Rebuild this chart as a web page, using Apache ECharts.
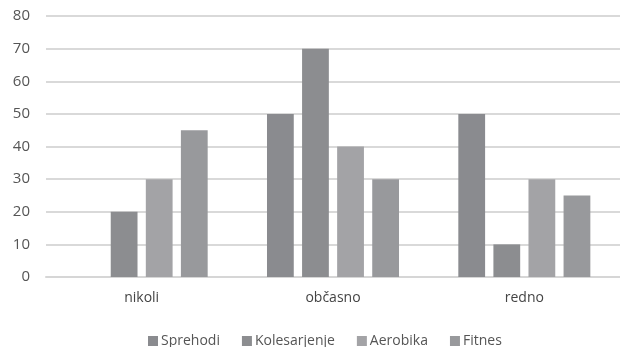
<!DOCTYPE html>
<html>
<head>
<meta charset="utf-8">
<script src="https://cdn.jsdelivr.net/npm/echarts@6/dist/echarts.min.js"></script>
<style>
  html, body { margin: 0; padding: 0; background: #fff; }
  #chart { width: 620px; height: 347px; }
</style>
</head>
<body>
<div id="chart"></div>
<script>
// Frequency categories on the x axis
const categories = ['nikoli', 'občasno', 'redno'];

// One series per activity
const seriesNames = ['Sprehodi', 'Kolesarjenje', 'Aerobika', 'Fitnes'];
const sprehodi = [0, 50, 50];
const kolesarjenje = [20, 70, 10];
const aerobika = [30, 40, 30];
const fitnes = [45, 30, 25];

const seriesColors = ['#8a8b8f', '#8c8d90', '#a3a3a6', '#98999c'];
const seriesValues = [sprehodi, kolesarjenje, aerobika, fitnes];

const chart = echarts.init(document.getElementById('chart'), null, { renderer: 'canvas' });

chart.setOption({
  animation: false,
  backgroundColor: '#ffffff',
  textStyle: { fontFamily: 'Open Sans, sans-serif' },
  grid: { left: 46, right: -7, top: 16, bottom: 70, containLabel: false },
  legend: {
    bottom: -6,
    left: 143,
    itemWidth: 10,
    itemHeight: 10,
    itemGap: 22,
    icon: 'rect',
    textStyle: { fontSize: 14, color: '#555', padding: [0, 0, 0, -2] },
    data: seriesNames
  },
  xAxis: {
    type: 'category',
    data: categories,
    axisLine: { show: true, lineStyle: { color: '#d6d6d6', width: 2 } },
    axisTick: { show: false },
    axisLabel: { color: '#444', fontSize: 14, margin: 14 }
  },
  yAxis: {
    type: 'value',
    min: 0,
    max: 80,
    interval: 10,
    axisLine: { show: false },
    axisTick: { show: false },
    axisLabel: { color: '#555', fontSize: 15, fontWeight: 500, margin: 16 },
    splitLine: { lineStyle: { color: '#d9d9d9', width: 2 } }
  },
  series: seriesNames.map((name, i) => ({
    name: name,
    type: 'bar',
    data: seriesValues[i],
    itemStyle: { color: seriesColors[i] },
    barGap: '31%',
    barCategoryGap: '31%'
  }))
});
</script>
</body>
</html>
